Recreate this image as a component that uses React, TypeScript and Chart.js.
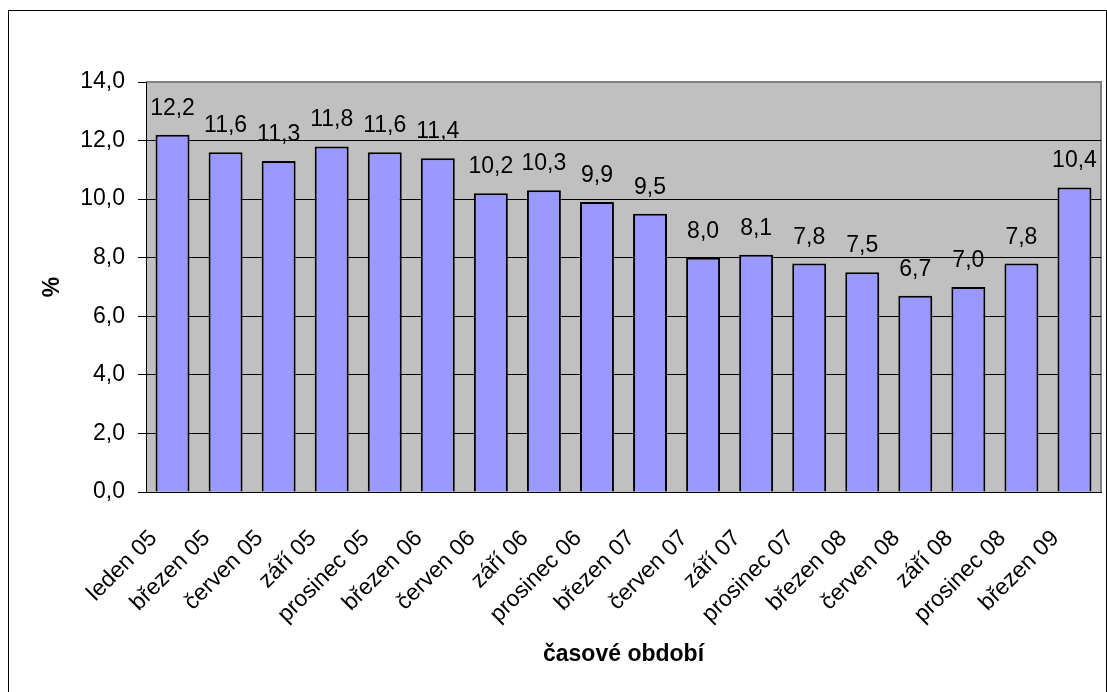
import React, { useEffect, useRef } from "react";
import { Chart, registerables } from "chart.js";

Chart.register(...registerables);

const categories: string[] = [
  "leden 05", "březen 05", "červen 05", "září 05", "prosinec 05",
  "březen 06", "červen 06", "září 06", "prosinec 06",
  "březen 07", "červen 07", "září 07", "prosinec 07",
  "březen 08", "červen 08", "září 08", "prosinec 08",
  "březen 09",
];

const values: number[] = [
  12.2, 11.6, 11.3, 11.8, 11.6, 11.4, 10.2, 10.3, 9.9,
  9.5, 8.0, 8.1, 7.8, 7.5, 6.7, 7.0, 7.8, 10.4,
];

const yTicks: number[] = [0, 2, 4, 6, 8, 10, 12, 14];
const yTitle = "%";
const xTitle = "časové období";

const FONT = "'Liberation Sans', Arial, sans-serif";
const FS = 23;
const fmt = (v: number) => v.toFixed(1).replace(".", ",");

const plotBg = {
  id: "plotBg",
  beforeDraw(chart: any) {
    const { ctx, chartArea: a } = chart;
    ctx.save();
    ctx.fillStyle = "#C0C0C0";
    ctx.fillRect(a.left, a.top, a.right - a.left, a.bottom - a.top);
    ctx.strokeStyle = "#808080";
    ctx.lineWidth = 2;
    ctx.beginPath();
    ctx.moveTo(a.left, a.top);
    ctx.lineTo(a.right, a.top);
    ctx.lineTo(a.right, a.bottom);
    ctx.stroke();
    ctx.restore();
  },
};

const barLabels = {
  id: "barLabels",
  afterDatasetsDraw(chart: any) {
    const { ctx } = chart;
    const meta = chart.getDatasetMeta(0);
    const data = chart.data.datasets[0].data as number[];
    ctx.save();
    ctx.fillStyle = "#000";
    ctx.font = `${FS}px ${FONT}`;
    ctx.textAlign = "center";
    ctx.textBaseline = "alphabetic";
    meta.data.forEach((el: any, i: number) => {
      ctx.fillText(fmt(data[i]), el.x, el.y - 20);
    });
    ctx.restore();
  },
};

export default function App() {
  const ref = useRef<HTMLCanvasElement | null>(null);

  useEffect(() => {
    if (!ref.current) return;
    const chart = new Chart(ref.current, {
      type: "bar",
      data: {
        labels: categories,
        datasets: [
          {
            data: values,
            backgroundColor: "#9999FF",
            borderColor: "#000000",
            borderWidth: 2,
            barPercentage: 0.64,
            categoryPercentage: 1,
          },
        ],
      },
      options: {
        animation: false,
        responsive: false,
        maintainAspectRatio: false,
        layout: { padding: { left: 0, right: 5, top: 71, bottom: 0 } },
        plugins: {
          legend: { display: false },
          tooltip: { enabled: false },
        },
        scales: {
          x: {
            grid: { display: false, drawTicks: false },
            border: { display: true, color: "#000", width: 1 },
            ticks: {
              color: "#000",
              font: { family: FONT, size: FS },
              maxRotation: 45,
              minRotation: 45,
              autoSkip: false,
              padding: 33,
              labelOffset: -19,
            },
            title: {
              display: true,
              text: xTitle,
              color: "#000",
              font: { family: FONT, size: FS, weight: "bold" },
              padding: { top: 0, bottom: 24 },
            },
            afterFit(scale: any) {
              scale.height = 200;
              scale.paddingLeft = 0;
              scale.paddingRight = 0;
            },
          },
          y: {
            min: 0,
            max: 14,
            afterBuildTicks(scale: any) {
              scale.ticks = yTicks.map((v) => ({ value: v }));
            },
            grid: {
              color: (c: any) => (c.tick && c.tick.value === 14 ? "#808080" : "#000"),
              tickColor: "#000",
              tickLength: 8,
              lineWidth: 1,
            },
            border: { display: true, color: "#000", width: 1 },
            ticks: {
              color: "#000",
              font: { family: FONT, size: FS },
              padding: 13,
              callback: (v: any) => fmt(Number(v)),
            },
            title: {
              display: true,
              text: yTitle,
              color: "#000",
              font: { family: FONT, size: FS, weight: "bold" },
              padding: { top: 30, bottom: 0 },
            },
            afterFit(scale: any) {
              scale.width = 137;
            },
          },
        },
      },
      plugins: [plotBg, barLabels],
    });
    return () => chart.destroy();
  }, []);

  return (
    <div
      style={{
        position: "fixed",
        left: 8,
        top: 10,
        width: 1099,
        height: 682,
        border: "1px solid #000",
        borderBottom: "none",
        boxSizing: "border-box",
        background: "#fff",
      }}
    >
      <canvas ref={ref} width={1097} height={681} style={{ display: "block" }} />
    </div>
  );
}
